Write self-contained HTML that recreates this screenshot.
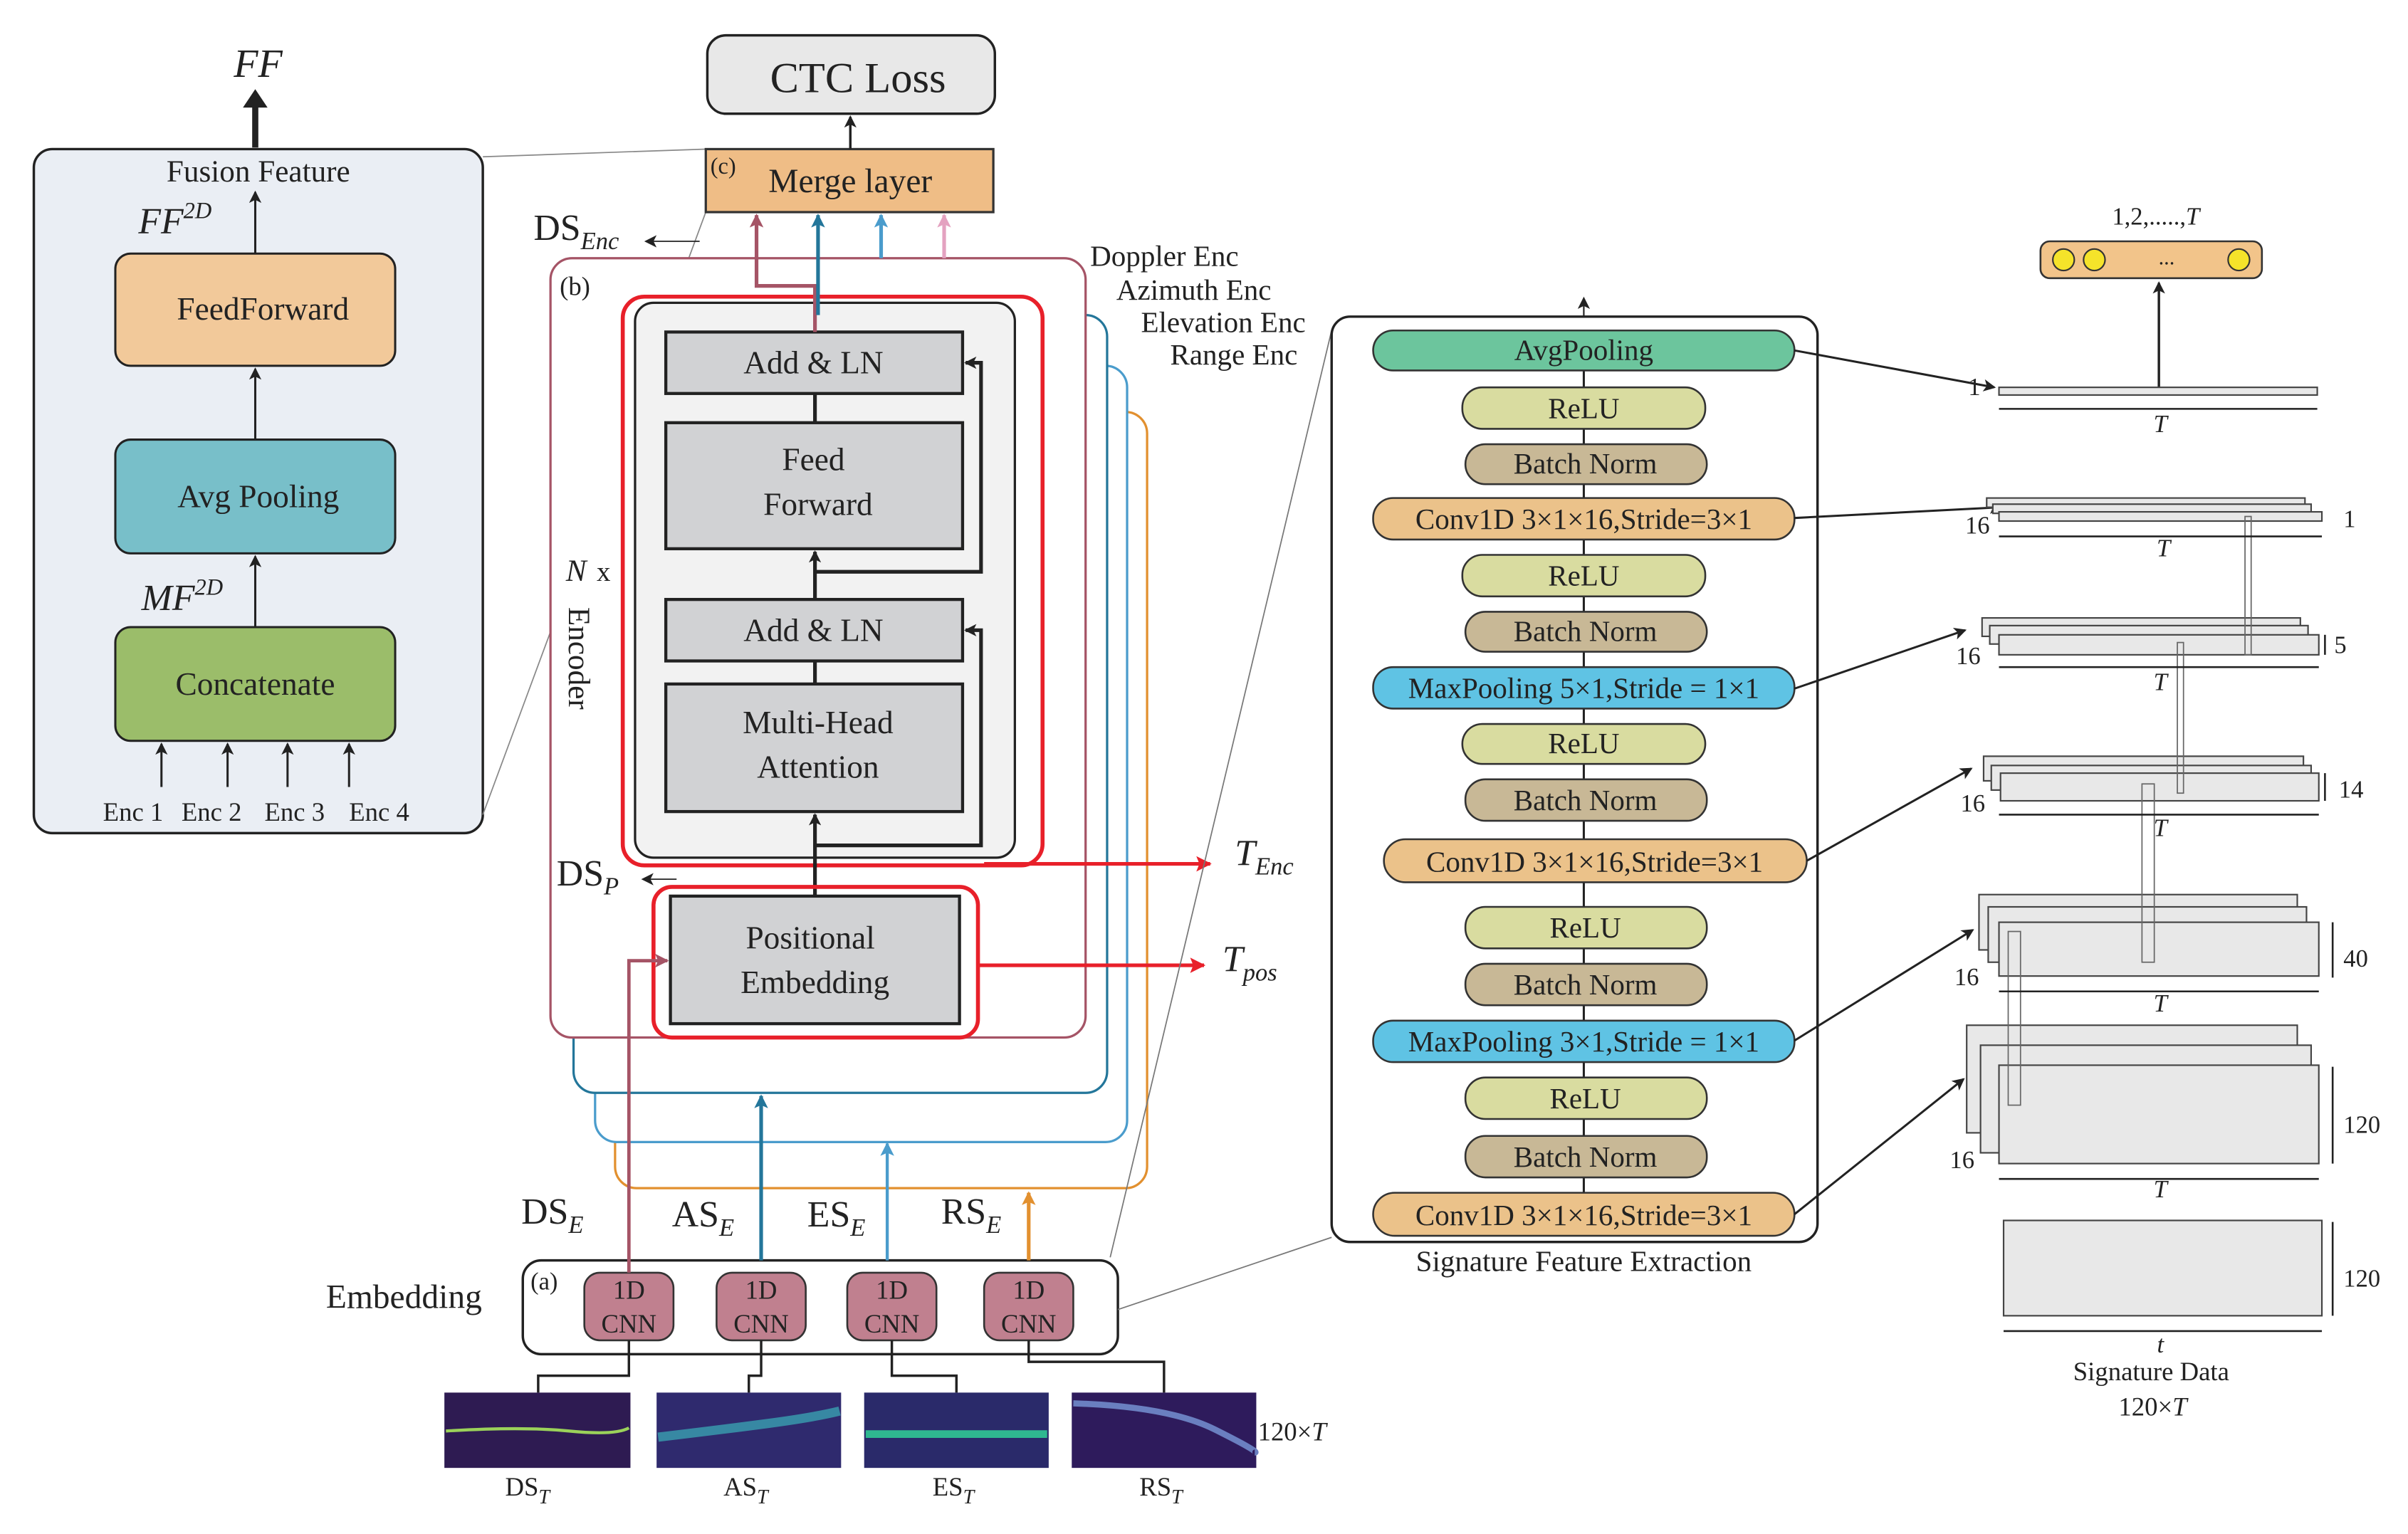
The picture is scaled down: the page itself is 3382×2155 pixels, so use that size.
<!DOCTYPE html>
<html><head><meta charset="utf-8"><style>
html,body{margin:0;padding:0;background:#fff}
svg{display:block}
text{font-family:"Liberation Serif",serif;fill:#222}
</style></head><body>
<svg width="3382" height="2155" viewBox="0 0 1566 998" preserveAspectRatio="none" xmlns="http://www.w3.org/2000/svg">
<defs>
<marker id="ak" markerWidth="8" markerHeight="8" refX="7" refY="4" orient="auto" markerUnits="userSpaceOnUse"><path d="M0,0 L8,4 L0,8 L2,4z" fill="#222"/></marker>
<marker id="ar" markerWidth="10" markerHeight="10" refX="9" refY="5" orient="auto" markerUnits="userSpaceOnUse"><path d="M0,0 L10,5 L0,10 L2,5z" fill="#e8202a"/></marker>
<marker id="am" markerWidth="9" markerHeight="9" refX="8" refY="4.5" orient="auto" markerUnits="userSpaceOnUse"><path d="M0,0 L9,4.5 L0,9 L2,4.5z" fill="#a55466"/></marker>
<marker id="ab" markerWidth="9" markerHeight="9" refX="8" refY="4.5" orient="auto" markerUnits="userSpaceOnUse"><path d="M0,0 L9,4.5 L0,9 L2,4.5z" fill="#23769a"/></marker>
<marker id="alb" markerWidth="9" markerHeight="9" refX="8" refY="4.5" orient="auto" markerUnits="userSpaceOnUse"><path d="M0,0 L9,4.5 L0,9 L2,4.5z" fill="#4a9ccc"/></marker>
<marker id="ao" markerWidth="9" markerHeight="9" refX="8" refY="4.5" orient="auto" markerUnits="userSpaceOnUse"><path d="M0,0 L9,4.5 L0,9 L2,4.5z" fill="#e2902f"/></marker>
<marker id="ap" markerWidth="9" markerHeight="9" refX="8" refY="4.5" orient="auto" markerUnits="userSpaceOnUse"><path d="M0,0 L9,4.5 L0,9 L2,4.5z" fill="#e4a2c0"/></marker>
</defs>

<!-- Left fusion panel -->
<rect x="22" y="97" width="292" height="445" rx="12" fill="#eaeef4" stroke="#222" stroke-width="1.6"/>
<text x="168" y="118" font-size="20" text-anchor="middle">Fusion Feature</text>
<text x="90" y="152" font-size="24" font-style="italic">FF<tspan font-size="15" dy="-10">2D</tspan></text>
<rect x="75" y="165" width="182" height="73" rx="10" fill="#f2c99a" stroke="#222" stroke-width="1.4"/>
<text x="171" y="208" font-size="21" text-anchor="middle">FeedForward</text>
<rect x="75" y="286" width="182" height="74" rx="10" fill="#78bfc9" stroke="#222" stroke-width="1.4"/>
<text x="168" y="330" font-size="21" text-anchor="middle">Avg Pooling</text>
<text x="92" y="397" font-size="24" font-style="italic">MF<tspan font-size="15" dy="-10">2D</tspan></text>
<rect x="75" y="408" width="182" height="74" rx="10" fill="#9bbd6a" stroke="#222" stroke-width="1.4"/>
<text x="166" y="452" font-size="21" text-anchor="middle">Concatenate</text>
<line x1="166" y1="286" x2="166" y2="240" stroke="#222" stroke-width="1.4" marker-end="url(#ak)"/>
<line x1="166" y1="408" x2="166" y2="362" stroke="#222" stroke-width="1.4" marker-end="url(#ak)"/>
<line x1="166" y1="165" x2="166" y2="125" stroke="#222" stroke-width="1.4" marker-end="url(#ak)"/>
<g stroke="#222" stroke-width="1.4">
<line x1="105" y1="512" x2="105" y2="484" marker-end="url(#ak)"/>
<line x1="148" y1="512" x2="148" y2="484" marker-end="url(#ak)"/>
<line x1="187" y1="512" x2="187" y2="484" marker-end="url(#ak)"/>
<line x1="227" y1="512" x2="227" y2="484" marker-end="url(#ak)"/>
</g>
<text x="67" y="534" font-size="17">Enc 1</text><text x="118" y="534" font-size="17">Enc 2</text>
<text x="172" y="534" font-size="17">Enc 3</text><text x="227" y="534" font-size="17">Enc 4</text>
<line x1="166" y1="96" x2="166" y2="68" stroke="#222" stroke-width="4"/>
<path d="M158,70 L166,58 L174,70z" fill="#222"/>
<text x="152" y="50" font-size="26" font-style="italic">FF</text>
<line x1="314" y1="102" x2="459" y2="97" stroke="#888" stroke-width="0.8"/>
<line x1="314" y1="530" x2="459" y2="138" stroke="#888" stroke-width="0.8"/>

<!-- CTC + merge -->
<rect x="460" y="23" width="187" height="51" rx="12" fill="#e8e8e8" stroke="#222" stroke-width="1.6"/>
<text x="558" y="60" font-size="28" text-anchor="middle">CTC Loss</text>
<rect x="459" y="97" width="187" height="41" fill="#efbd86" stroke="#333" stroke-width="1.5"/>
<text x="462" y="113" font-size="15">(c)</text>
<text x="553" y="125" font-size="22" text-anchor="middle">Merge layer</text>
<line x1="553" y1="97" x2="553" y2="76" stroke="#222" stroke-width="1.6" marker-end="url(#ak)"/>
<text x="347" y="156" font-size="24">DS<tspan font-size="16" font-style="italic" dy="6">Enc</tspan></text>
<line x1="455" y1="157" x2="420" y2="157" stroke="#222" stroke-width="0.8" marker-end="url(#ak)"/>

<!-- encoder stacks -->
<rect x="400" y="268" width="346" height="505" rx="14" fill="none" stroke="#e2902f" stroke-width="1.5"/>
<rect x="387" y="238" width="346" height="505" rx="14" fill="#fff" stroke="#4a9ccc" stroke-width="1.5"/>
<rect x="373" y="205" width="347" height="506" rx="14" fill="#fff" stroke="#23769a" stroke-width="1.5"/>
<rect x="358" y="168" width="348" height="507" rx="14" fill="#fff" stroke="#a55466" stroke-width="1.5"/>
<text x="364" y="192" font-size="17">(b)</text>
<text x="368" y="378" font-size="20" font-style="italic">N</text><text x="388" y="378" font-size="18">x</text>
<text x="370" y="395" font-size="20" transform="rotate(90 370 395)">Encoder</text>

<rect x="413" y="197" width="247" height="361" rx="12" fill="#f2f2f2" stroke="#222" stroke-width="1.5"/>
<rect x="405" y="193" width="273" height="370" rx="14" fill="none" stroke="#e8202a" stroke-width="2.6"/>
<g fill="#d1d2d4" stroke="#222" stroke-width="2">
<rect x="433" y="216" width="193" height="40"/>
<rect x="433" y="275" width="193" height="82"/>
<rect x="433" y="390" width="193" height="40"/>
<rect x="433" y="445" width="193" height="83"/>
</g>
<text x="529" y="243" font-size="21" text-anchor="middle">Add &amp; LN</text>
<text x="529" y="306" font-size="21" text-anchor="middle">Feed</text>
<text x="532" y="335" font-size="21" text-anchor="middle">Forward</text>
<text x="529" y="417" font-size="21" text-anchor="middle">Add &amp; LN</text>
<text x="532" y="477" font-size="21" text-anchor="middle">Multi-Head</text>
<text x="532" y="506" font-size="21" text-anchor="middle">Attention</text>
<g stroke="#222" stroke-width="2.4" fill="none">
<line x1="530" y1="583" x2="530" y2="530" marker-end="url(#ak)"/>
<polyline points="530,550 638,550 638,410 628,410" marker-end="url(#ak)"/>
<line x1="530" y1="445" x2="530" y2="430"/>
<line x1="530" y1="390" x2="530" y2="359" marker-end="url(#ak)"/>
<polyline points="530,372 638,372 638,236 628,236" marker-end="url(#ak)"/>
<line x1="530" y1="275" x2="530" y2="256"/>
</g>
<rect x="436" y="583" width="188" height="83" fill="#d1d2d4" stroke="#222" stroke-width="2"/>
<rect x="425" y="577" width="211" height="98" rx="12" fill="none" stroke="#e8202a" stroke-width="2.6"/>
<text x="527" y="617" font-size="21" text-anchor="middle">Positional</text>
<text x="530" y="646" font-size="21" text-anchor="middle">Embedding</text>
<line x1="640" y1="562" x2="787" y2="562" stroke="#e8202a" stroke-width="2.4" marker-end="url(#ar)"/>
<line x1="636" y1="628" x2="783" y2="628" stroke="#e8202a" stroke-width="2.4" marker-end="url(#ar)"/>
<text x="803" y="563" font-size="24" font-style="italic">T<tspan font-size="16" dy="6">Enc</tspan></text>
<text x="795" y="632" font-size="24" font-style="italic">T<tspan font-size="16" dy="6">pos</tspan></text>
<text x="362" y="576" font-size="24">DS<tspan font-size="16" font-style="italic" dy="6">P</tspan></text>
<line x1="440" y1="572" x2="418" y2="572" stroke="#222" stroke-width="0.8" marker-end="url(#ak)"/>

<!-- colored outputs to merge -->
<polyline points="530,216 530,186 492,186 492,140" fill="none" stroke="#a55466" stroke-width="2.4" marker-end="url(#am)"/>
<line x1="532" y1="205" x2="532" y2="140" stroke="#23769a" stroke-width="2.4" marker-end="url(#ab)"/>
<line x1="573" y1="168" x2="573" y2="140" stroke="#4a9ccc" stroke-width="2.4" marker-end="url(#alb)"/>
<line x1="614" y1="168" x2="614" y2="140" stroke="#e4a2c0" stroke-width="2.4" marker-end="url(#ap)"/>
<text x="709" y="173" font-size="19">Doppler Enc</text>
<text x="726" y="195" font-size="19">Azimuth Enc</text>
<text x="742" y="216" font-size="19">Elevation Enc</text>
<text x="761" y="237" font-size="19">Range Enc</text>

<!-- embedding -->
<rect x="340" y="820" width="387" height="61" rx="12" fill="#fff" stroke="#222" stroke-width="1.6"/>
<text x="345" y="839" font-size="16">(a)</text>
<text x="212" y="851" font-size="22">Embedding</text>
<g fill="#c0808f" stroke="#333" stroke-width="1.2">
<rect x="380" y="828" width="58" height="44" rx="10"/><rect x="466" y="828" width="58" height="44" rx="10"/>
<rect x="551" y="828" width="58" height="44" rx="10"/><rect x="640" y="828" width="58" height="44" rx="10"/>
</g>
<g font-size="17" text-anchor="middle">
<text x="409" y="845">1D</text><text x="409" y="867">CNN</text>
<text x="495" y="845">1D</text><text x="495" y="867">CNN</text>
<text x="580" y="845">1D</text><text x="580" y="867">CNN</text>
<text x="669" y="845">1D</text><text x="669" y="867">CNN</text>
</g>
<polyline points="409,828 409,625 434,625" fill="none" stroke="#a55466" stroke-width="2.2" marker-end="url(#am)"/>
<line x1="495" y1="820" x2="495" y2="713" stroke="#23769a" stroke-width="2.4" marker-end="url(#ab)"/>
<line x1="577" y1="820" x2="577" y2="744" stroke="#4a9ccc" stroke-width="2" marker-end="url(#alb)"/>
<line x1="669" y1="820" x2="669" y2="776" stroke="#e2902f" stroke-width="2.4" marker-end="url(#ao)"/>
<g font-size="24"><text x="339" y="796">DS<tspan font-size="16" font-style="italic" dy="6">E</tspan></text>
<text x="437" y="798">AS<tspan font-size="16" font-style="italic" dy="6">E</tspan></text>
<text x="525" y="798">ES<tspan font-size="16" font-style="italic" dy="6">E</tspan></text>
<text x="612" y="796">RS<tspan font-size="16" font-style="italic" dy="6">E</tspan></text></g>
<g stroke="#222" stroke-width="1.6" fill="none">
<polyline points="409,872 409,895 350,895 350,906"/>
<polyline points="495,872 495,895 487,895 487,906"/>
<polyline points="580,872 580,895 622,895 622,906"/>
<polyline points="669,872 669,886 757,886 757,906"/>
</g>
<rect x="289" y="906" width="121" height="49" fill="#2e1b52"/>
<path d="M290,931 Q340,928 370,931 T409,929" stroke="#9bd25a" stroke-width="2" fill="none"/>
<rect x="427" y="906" width="120" height="49" fill="#2f2a6e"/>
<path d="M428,935 Q470,930 500,926 T546,918" stroke="#3aa0b0" stroke-width="6" fill="none" opacity="0.8"/>
<rect x="562" y="906" width="120" height="49" fill="#2a2a6a"/>
<path d="M563,933 L681,933" stroke="#2fb890" stroke-width="5" fill="none"/>
<rect x="697" y="906" width="120" height="49" fill="#2e1b5c"/>
<path d="M698,913 Q760,915 790,930 T816,945" stroke="#6a7fc0" stroke-width="4" fill="none"/>
<text x="818" y="937" font-size="17">120×<tspan font-style="italic">T</tspan></text>
<g font-size="17" text-anchor="middle">
<text x="343" y="973">DS<tspan font-size="13" font-style="italic" dy="5">T</tspan></text>
<text x="485" y="973">AS<tspan font-size="13" font-style="italic" dy="5">T</tspan></text>
<text x="620" y="973">ES<tspan font-size="13" font-style="italic" dy="5">T</tspan></text>
<text x="755" y="973">RS<tspan font-size="13" font-style="italic" dy="5">T</tspan></text></g>

<!-- grey guide lines -->
<line x1="722" y1="818" x2="866" y2="215" stroke="#777" stroke-width="0.8"/>
<line x1="727" y1="852" x2="866" y2="805" stroke="#777" stroke-width="0.8"/>

<!-- signature panel -->
<rect x="866" y="206" width="316" height="602" rx="12" fill="#fff" stroke="#222" stroke-width="1.6"/>
<line x1="1030" y1="206" x2="1030" y2="194" stroke="#222" stroke-width="1" marker-end="url(#ak)"/>
<line x1="1030" y1="241" x2="1030" y2="776" stroke="#222" stroke-width="1.4"/>
<text x="1030" y="827" font-size="19" text-anchor="middle">Signature Feature Extraction</text>
<g stroke="#333" stroke-width="1.2">
<rect x="893" y="215" width="274" height="26" rx="13" fill="#6cc59d"/>
<rect x="951" y="252" width="158" height="27" rx="13" fill="#d9dca0"/>
<rect x="953" y="289" width="157" height="26" rx="13" fill="#c8b896"/>
<rect x="893" y="324" width="274" height="27" rx="13" fill="#ebc28a"/>
<rect x="951" y="361" width="158" height="27" rx="13" fill="#d9dca0"/>
<rect x="953" y="398" width="157" height="26" rx="13" fill="#c8b896"/>
<rect x="893" y="434" width="274" height="27" rx="13" fill="#5fc3e4"/>
<rect x="951" y="471" width="158" height="26" rx="13" fill="#d9dca0"/>
<rect x="953" y="507" width="157" height="27" rx="13" fill="#c8b896"/>
<rect x="900" y="546" width="275" height="28" rx="14" fill="#ebc28a"/>
<rect x="953" y="590" width="157" height="27" rx="13" fill="#d9dca0"/>
<rect x="953" y="627" width="157" height="27" rx="13" fill="#c8b896"/>
<rect x="893" y="664" width="274" height="27" rx="13" fill="#5fc3e4"/>
<rect x="953" y="701" width="157" height="27" rx="13" fill="#d9dca0"/>
<rect x="953" y="739" width="157" height="27" rx="13" fill="#c8b896"/>
<rect x="893" y="776" width="274" height="28" rx="14" fill="#ebc28a"/>
</g>
<g font-size="19" text-anchor="middle">
<text x="1030" y="234">AvgPooling</text>
<text x="1030" y="272">ReLU</text><text x="1031" y="308">Batch Norm</text>
<text x="1030" y="344">Conv1D 3×1×16,Stride=3×1</text>
<text x="1030" y="381">ReLU</text><text x="1031" y="417">Batch Norm</text>
<text x="1030" y="454">MaxPooling 5×1,Stride = 1×1</text>
<text x="1030" y="490">ReLU</text><text x="1031" y="527">Batch Norm</text>
<text x="1037" y="567">Conv1D 3×1×16,Stride=3×1</text>
<text x="1031" y="610">ReLU</text><text x="1031" y="647">Batch Norm</text>
<text x="1030" y="684">MaxPooling 3×1,Stride = 1×1</text>
<text x="1031" y="721">ReLU</text><text x="1031" y="759">Batch Norm</text>
<text x="1030" y="797">Conv1D 3×1×16,Stride=3×1</text>
</g>

<!-- right side tensors -->
<rect x="1327" y="157" width="144" height="24" rx="6" fill="#f2c48a" stroke="#333" stroke-width="1.2"/>
<g fill="#f5e32a" stroke="#333" stroke-width="1"><circle cx="1342" cy="169" r="7"/><circle cx="1362" cy="169" r="7"/><circle cx="1456" cy="169" r="7"/></g>
<text x="1409" y="172" font-size="14" text-anchor="middle">...</text>
<text x="1402" y="146" font-size="16" text-anchor="middle">1,2,.....,<tspan font-style="italic">T</tspan></text>
<line x1="1404" y1="252" x2="1404" y2="184" stroke="#222" stroke-width="1.6" marker-end="url(#ak)"/>
<g stroke="#222" stroke-width="1.4" fill="none">
<line x1="1167" y1="228" x2="1297" y2="252" marker-end="url(#ak)"/>
<line x1="1167" y1="337" x2="1301" y2="330" marker-end="url(#ak)"/>
<line x1="1167" y1="448" x2="1278" y2="410" marker-end="url(#ak)"/>
<line x1="1175" y1="560" x2="1282" y2="500" marker-end="url(#ak)"/>
<line x1="1167" y1="677" x2="1283" y2="605" marker-end="url(#ak)"/>
<line x1="1167" y1="790" x2="1277" y2="702" marker-end="url(#ak)"/>
</g>
<g fill="#e8e8e8" stroke="#444" stroke-width="1">
<rect x="1300" y="252" width="207" height="5"/>
<rect x="1292" y="324" width="207" height="6"/><rect x="1296" y="328" width="207" height="6"/><rect x="1300" y="333" width="210" height="6"/>
<rect x="1289" y="402" width="207" height="12"/><rect x="1294" y="407" width="207" height="12"/><rect x="1300" y="413" width="208" height="13"/>
<rect x="1290" y="492" width="208" height="16"/><rect x="1295" y="498" width="208" height="16"/><rect x="1301" y="503" width="207" height="18"/>
<rect x="1287" y="582" width="207" height="36"/><rect x="1293" y="590" width="207" height="36"/><rect x="1300" y="600" width="208" height="35"/>
<rect x="1279" y="667" width="215" height="70"/><rect x="1288" y="680" width="215" height="70"/><rect x="1300" y="693" width="208" height="64"/>
<rect x="1303" y="794" width="207" height="62"/>
</g>
<g stroke="#666" stroke-width="0.8" fill="none">
<rect x="1460" y="336" width="4" height="90"/><rect x="1416" y="418" width="4" height="98"/>
<rect x="1393" y="510" width="8" height="116"/><rect x="1306" y="606" width="8" height="113"/>
</g>
<g font-size="16">
<text x="1280" y="257">1</text><text x="1278" y="347">16</text><text x="1272" y="432">16</text>
<text x="1275" y="528">16</text><text x="1271" y="641">16</text><text x="1268" y="760">16</text>
<text x="1524" y="343">1</text><text x="1518" y="425">5</text><text x="1521" y="519">14</text>
<text x="1524" y="629">40</text><text x="1524" y="737">120</text><text x="1524" y="837">120</text>
</g>
<g font-size="16" font-style="italic" text-anchor="middle">
<text x="1405" y="281">T</text><text x="1407" y="362">T</text><text x="1405" y="449">T</text>
<text x="1405" y="544">T</text><text x="1405" y="658">T</text><text x="1405" y="779">T</text><text x="1405" y="880">t</text>
</g>
<g stroke="#222" stroke-width="1.2">
<line x1="1300" y1="266" x2="1507" y2="266"/><line x1="1300" y1="349" x2="1510" y2="349"/>
<line x1="1300" y1="434" x2="1508" y2="434"/><line x1="1300" y1="530" x2="1508" y2="530"/>
<line x1="1300" y1="645" x2="1508" y2="645"/><line x1="1300" y1="767" x2="1508" y2="767"/>
<line x1="1303" y1="866" x2="1510" y2="866"/>
<line x1="1517" y1="600" x2="1517" y2="636"/><line x1="1517" y1="694" x2="1517" y2="757"/>
<line x1="1517" y1="795" x2="1517" y2="856"/><line x1="1512" y1="503" x2="1512" y2="521"/>
<line x1="1512" y1="413" x2="1512" y2="426"/>
</g>
<text x="1399" y="898" font-size="17" text-anchor="middle">Signature Data</text>
<text x="1400" y="921" font-size="17" text-anchor="middle">120×<tspan font-style="italic">T</tspan></text>
</svg>
</body></html>
